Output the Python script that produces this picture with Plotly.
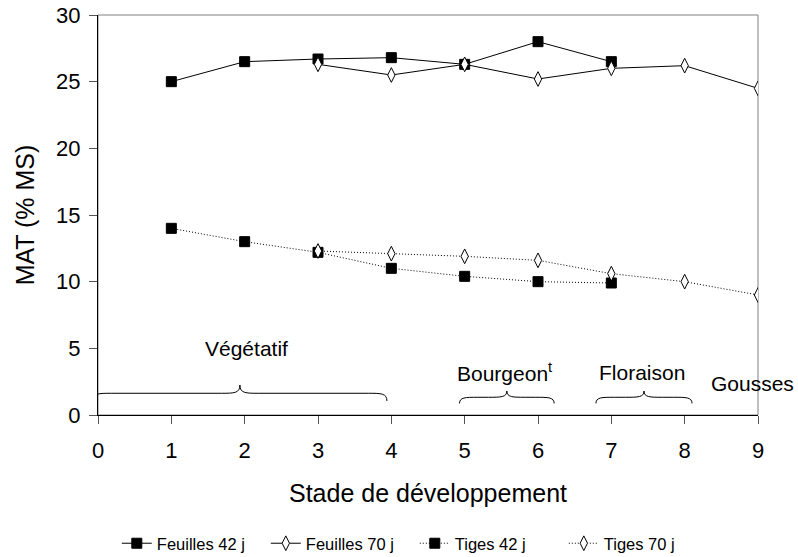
import plotly.graph_objects as go

stades = [0, 1, 2, 3, 4, 5, 6, 7, 8, 9]

x_f42 = [1, 2, 3, 4, 5, 6, 7]
feuilles_42 = [25.0, 26.5, 26.7, 26.8, 26.3, 28.0, 26.5]

x_f70 = [3, 4, 5, 6, 7, 8, 9]
feuilles_70 = [26.3, 25.5, 26.3, 25.2, 26.0, 26.2, 24.5]

x_t42 = [1, 2, 3, 4, 5, 6, 7]
tiges_42 = [14.0, 13.0, 12.2, 11.0, 10.4, 10.0, 9.9]

x_t70 = [3, 4, 5, 6, 7, 8, 9]
tiges_70 = [12.3, 12.1, 11.9, 11.6, 10.6, 10.0, 9.0]

yticks = [0, 5, 10, 15, 20, 25, 30]

FONT = "Liberation Sans, Arial, sans-serif"
DOT = "1px,2px"

fig = go.Figure()

fig.add_trace(go.Scatter(
    x=x_f42, y=feuilles_42, name="Feuilles 42 j", mode="lines+markers",
    line=dict(color="black", width=1),
    marker=dict(symbol="square", size=10, color="black", line=dict(color="black", width=1))))
fig.add_trace(go.Scatter(
    x=x_f70, y=feuilles_70, name="Feuilles 70 j", mode="lines+markers",
    line=dict(color="black", width=1),
    marker=dict(symbol="diamond-tall", size=10.5, color="white", line=dict(color="black", width=1))))
fig.add_trace(go.Scatter(
    x=x_t42, y=tiges_42, name="Tiges 42 j", mode="lines+markers",
    line=dict(color="black", width=1, dash=DOT),
    marker=dict(symbol="square", size=10, color="black", line=dict(color="black", width=1))))
fig.add_trace(go.Scatter(
    x=x_t70, y=tiges_70, name="Tiges 70 j", mode="lines+markers",
    line=dict(color="black", width=1, dash=DOT),
    marker=dict(symbol="diamond-tall", size=10.5, color="white", line=dict(color="black", width=1))))

# Braces for development stages
brace_ranges = [(-0.07, 3.94, 1.05, 1.63, 2.25),
                (4.93, 6.22, 0.87, 1.33, 1.80),
                (6.79, 8.10, 0.87, 1.33, 1.80)]
shapes = []
for (x0, x1, ye, yh, yt) in brace_ranges:
    xm = (x0 + x1) / 2
    r = 0.25
    p = (f"M {x0},{ye} C {x0},{yh} {x0+0.08},{yh} {x0+r},{yh} "
         f"L {xm-r},{yh} C {xm-0.08},{yh} {xm},{yh} {xm},{yt} "
         f"C {xm},{yh} {xm+0.08},{yh} {xm+r},{yh} "
         f"L {x1-r},{yh} C {x1-0.08},{yh} {x1},{yh} {x1},{ye}")
    shapes.append(dict(type="path", path=p, xref="x", yref="y",
                       line=dict(color="black", width=1)))

# plot area frame (top/right)
shapes.append(dict(type="rect", xref="x domain", yref="y domain", x0=0, x1=1, y0=0, y1=1,
                   line=dict(color="#808080", width=1), layer="below"))

annotations = [
    dict(x=2.02, y=5.0, text="Végétatif", xanchor="center", yanchor="middle"),
    dict(x=4.87, y=3.2, text="Bourgeon<sup>t</sup>", xanchor="left", yanchor="middle"),
    dict(x=7.42, y=3.2, text="Floraison", xanchor="center", yanchor="middle"),
    dict(x=8.93, y=2.4, text="Gousses", xanchor="center", yanchor="middle"),
]
for a in annotations:
    a.update(xref="x", yref="y", showarrow=False, font=dict(family=FONT, size=21, color="black"))

fig.update_layout(
    width=798, height=557,
    margin=dict(l=98, r=40, t=15, b=142, autoexpand=False),
    paper_bgcolor="white", plot_bgcolor="white",
    font=dict(family=FONT, color="black"),
    showlegend=True,
    legend=dict(orientation="h", x=0.48, xanchor="center", y=-0.2775, yanchor="top",
                font=dict(family=FONT, size=16.5), itemwidth=30, tracegroupgap=0,
                entrywidth=104, entrywidthmode="pixels"),
    shapes=shapes, annotations=annotations,
)
fig.update_xaxes(range=[0, 9], tickvals=stades, showgrid=False, zeroline=False,
                 showline=True, linecolor="black", linewidth=1, automargin=False,
                 ticks="outside", ticklen=8, tickcolor="#555", ticklabelstandoff=8,
                 ticklabeloverflow="allow",
                 tickfont=dict(family=FONT, size=22),
                 title=dict(text="Stade de développement", font=dict(family=FONT, size=25), standoff=22))
fig.update_yaxes(range=[0, 30], tickvals=yticks, showgrid=False, zeroline=False,
                 showline=True, linecolor="black", linewidth=1, automargin=False,
                 ticks="outside", ticklen=8, tickcolor="#555", ticklabelstandoff=4,
                 ticklabeloverflow="allow",
                 tickfont=dict(family=FONT, size=22),
                 title=dict(text="MAT (% MS)", font=dict(family=FONT, size=25), standoff=14))

fig.write_html("out.html", config={"displayModeBar": False},
               post_script="document.body.style.margin='0px';document.body.style.overflow='hidden';")
